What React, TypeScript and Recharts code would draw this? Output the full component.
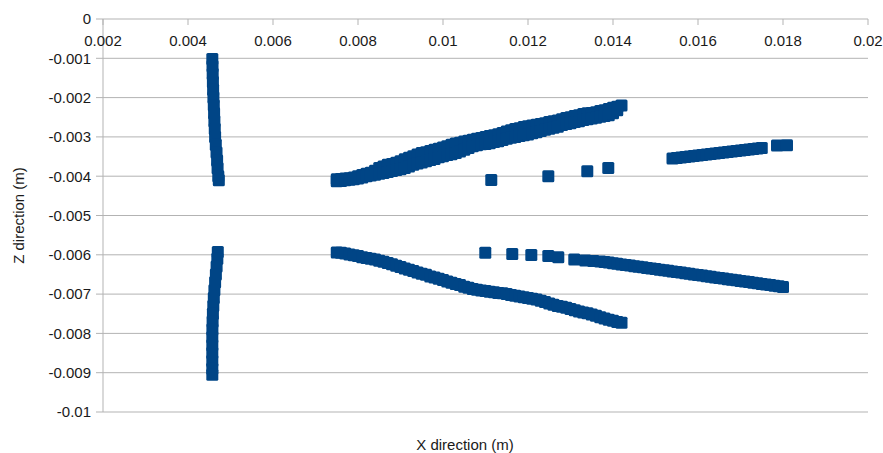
import { CartesianGrid, Label, Scatter, ScatterChart, XAxis, YAxis } from 'recharts';

// axis ticks
const xTicks = [0.002, 0.004, 0.006, 0.008, 0.01, 0.012, 0.014, 0.016, 0.018, 0.02];
const xTickLabels = ['0.002', '0.004', '0.006', '0.008', '0.01', '0.012', '0.014', '0.016', '0.018', '0.02'];
const zTicks = [0, -0.001, -0.002, -0.003, -0.004, -0.005, -0.006, -0.007, -0.008, -0.009, -0.01];
const zTickLabels = ['0', '-0.001', '-0.002', '-0.003', '-0.004', '-0.005', '-0.006', '-0.007', '-0.008', '-0.009', '-0.01'];

// [x, z] pairs
const leftUpper: [number, number][] = [
  [0.004572, -0.00102], [0.004577, -0.0012], [0.004581, -0.0014], [0.004586, -0.0016],
  [0.004591, -0.0018], [0.004598, -0.002], [0.004607, -0.0022], [0.004614, -0.0024],
  [0.004621, -0.0026], [0.00463, -0.0028], [0.004638, -0.003], [0.004654, -0.0032],
  [0.004671, -0.0034], [0.004685, -0.0036], [0.004696, -0.0038], [0.004713, -0.004],
  [0.004725, -0.0041],
];

const leftLower: [number, number][] = [
  [0.004701, -0.00593], [0.00469, -0.0061], [0.004673, -0.0063], [0.004656, -0.0065],
  [0.004638, -0.0067], [0.004621, -0.0069], [0.004607, -0.0071], [0.004595, -0.0073],
  [0.004586, -0.0075], [0.004579, -0.0077], [0.004574, -0.0079], [0.004572, -0.0081],
  [0.004572, -0.0083], [0.004572, -0.0085], [0.004572, -0.0087], [0.004572, -0.0089],
  [0.004572, -0.00905],
];

const risingTop: [number, number][] = [
  [0.0075, -0.00408], [0.0076, -0.00407], [0.0077, -0.00406], [0.0078, -0.00405],
  [0.0079, -0.00403], [0.008, -0.004], [0.0081, -0.00397], [0.0082, -0.00394],
  [0.0083, -0.00391], [0.0084, -0.00386], [0.0085, -0.00379], [0.0086, -0.00375],
  [0.0087, -0.00371], [0.0088, -0.00369], [0.0089, -0.00366], [0.009, -0.00362],
  [0.0091, -0.00357], [0.0092, -0.00353], [0.0093, -0.00349], [0.0094, -0.00345],
  [0.0095, -0.00341], [0.0096, -0.00339], [0.0097, -0.00336], [0.0098, -0.00333],
  [0.0099, -0.0033], [0.01, -0.00327], [0.0101, -0.00324], [0.0102, -0.0032],
  [0.0103, -0.00317], [0.0104, -0.00315], [0.0105, -0.00312], [0.0106, -0.0031],
  [0.0107, -0.00307], [0.0108, -0.00305], [0.0109, -0.00303], [0.011, -0.003],
  [0.0111, -0.00298], [0.0112, -0.00296], [0.0113, -0.00293], [0.0114, -0.0029],
  [0.0115, -0.00286], [0.0116, -0.00283], [0.0117, -0.0028], [0.0118, -0.00278],
  [0.0119, -0.00275], [0.012, -0.00273], [0.0121, -0.00271], [0.0122, -0.00269],
  [0.0123, -0.00267], [0.0124, -0.00265], [0.0125, -0.00262], [0.0126, -0.0026],
  [0.0127, -0.00258], [0.0128, -0.00255], [0.0129, -0.00252], [0.013, -0.0025],
  [0.0131, -0.00247], [0.0132, -0.00245], [0.0133, -0.00242], [0.0134, -0.0024],
  [0.0135, -0.00239], [0.0136, -0.00237], [0.0137, -0.00234], [0.0138, -0.00232],
  [0.0139, -0.00229], [0.014, -0.00226], [0.0141, -0.00223], [0.0142, -0.0022],
];

const risingBottom: [number, number][] = [
  [0.0075, -0.00413], [0.0076, -0.00412], [0.0077, -0.0041], [0.0078, -0.00409],
  [0.0079, -0.00408], [0.008, -0.00406], [0.0081, -0.00403], [0.0082, -0.004],
  [0.0083, -0.00398], [0.0084, -0.00396], [0.0085, -0.00394], [0.0086, -0.00392],
  [0.0087, -0.00389], [0.0088, -0.00387], [0.0089, -0.00384], [0.009, -0.00382],
  [0.0091, -0.00379], [0.0092, -0.00375], [0.0093, -0.00371], [0.0094, -0.00368],
  [0.0095, -0.00365], [0.0096, -0.00362], [0.0097, -0.00359], [0.0098, -0.00356],
  [0.0099, -0.00352], [0.01, -0.00349], [0.0101, -0.00346], [0.0102, -0.00344],
  [0.0103, -0.00341], [0.0104, -0.00337], [0.0105, -0.00333], [0.0106, -0.00328],
  [0.0107, -0.00324], [0.0108, -0.00321], [0.0109, -0.00319], [0.011, -0.00318],
  [0.0111, -0.00316], [0.0112, -0.00313], [0.0113, -0.00311], [0.0114, -0.00308],
  [0.0115, -0.00305], [0.0116, -0.00302], [0.0117, -0.003], [0.0118, -0.00298],
  [0.0119, -0.00296], [0.012, -0.00294], [0.0121, -0.00291], [0.0122, -0.00288],
  [0.0123, -0.00285], [0.0124, -0.00282], [0.0125, -0.00279], [0.0126, -0.00277],
  [0.0127, -0.00274], [0.0128, -0.0027], [0.0129, -0.00267], [0.013, -0.00265],
  [0.0131, -0.00262], [0.0132, -0.0026], [0.0133, -0.00257], [0.0134, -0.00255],
  [0.0135, -0.00253], [0.0136, -0.00251], [0.0137, -0.00249], [0.0138, -0.00247],
  [0.0139, -0.00245], [0.014, -0.0024], [0.0141, -0.00232],
];

const upperDots: [number, number][] = [
  [0.011136, -0.004097], [0.012478, -0.004003], [0.013395, -0.003875], [0.013889, -0.003791],
];

const upperRight: [number, number][] = [
  [0.0154, -0.00355], [0.0155, -0.003537], [0.0156, -0.003524], [0.0157, -0.003512],
  [0.0158, -0.003501], [0.0159, -0.003488], [0.016, -0.003476], [0.0161, -0.003463],
  [0.0162, -0.00345], [0.0163, -0.003437], [0.0164, -0.003425], [0.0165, -0.003412],
  [0.0166, -0.003399], [0.0167, -0.003386], [0.0168, -0.003374], [0.0169, -0.003361],
  [0.017, -0.003349], [0.0171, -0.003336], [0.0172, -0.003323], [0.0173, -0.00331],
  [0.0174, -0.003298], [0.0175, -0.003282], [0.017859, -0.003219], [0.018094, -0.00321],
];

const falling: [number, number][] = [
  [0.0075, -0.00594], [0.0076, -0.00595], [0.0077, -0.00597], [0.0078, -0.00599],
  [0.0079, -0.00601], [0.008, -0.00603], [0.0081, -0.00606], [0.0082, -0.00608],
  [0.0083, -0.0061], [0.0084, -0.00612], [0.0085, -0.00615], [0.0086, -0.00618],
  [0.0087, -0.00621], [0.0088, -0.00624], [0.0089, -0.00628], [0.009, -0.00631],
  [0.0091, -0.00635], [0.0092, -0.00638], [0.0093, -0.00641], [0.0094, -0.00645],
  [0.0095, -0.00648], [0.0096, -0.00651], [0.0097, -0.00655], [0.0098, -0.00658],
  [0.0099, -0.00661], [0.01, -0.00664], [0.0101, -0.00668], [0.0102, -0.00671],
  [0.0103, -0.00674], [0.0104, -0.00677], [0.0105, -0.00681], [0.0106, -0.00684],
  [0.0107, -0.00687], [0.0108, -0.00689], [0.0109, -0.00691], [0.011, -0.00692],
  [0.0111, -0.00694], [0.0112, -0.00695], [0.0113, -0.00697], [0.0114, -0.00698],
  [0.0115, -0.007], [0.0116, -0.00702], [0.0117, -0.00704], [0.0118, -0.00706],
  [0.0119, -0.00708], [0.012, -0.0071], [0.0121, -0.00712], [0.0122, -0.00714],
  [0.0123, -0.00717], [0.0124, -0.0072], [0.0125, -0.00724], [0.0126, -0.00727],
  [0.0127, -0.0073], [0.0128, -0.00732], [0.0129, -0.00735], [0.013, -0.00738],
  [0.0131, -0.00741], [0.0132, -0.00744], [0.0133, -0.00747], [0.0134, -0.00749],
  [0.0135, -0.00752], [0.0136, -0.00755], [0.0137, -0.00759], [0.0138, -0.00762],
  [0.0139, -0.00765], [0.014, -0.00768], [0.0141, -0.00771], [0.0142, -0.00773],
];

const lowerDots: [number, number][] = [
  [0.010995, -0.005947], [0.01163, -0.00598], [0.012078, -0.006005], [0.012478, -0.006031],
  [0.012713, -0.006064], [0.013089, -0.006119], [0.013348, -0.006145], [0.013537, -0.006158],
];

const lowerRight: [number, number][] = [
  [0.0137, -0.006168], [0.0138, -0.006183], [0.0139, -0.006198], [0.014, -0.006213],
  [0.0141, -0.006229], [0.0142, -0.006245], [0.0143, -0.00626], [0.0144, -0.006275],
  [0.0145, -0.00629], [0.0146, -0.006304], [0.0147, -0.006318], [0.0148, -0.006333],
  [0.0149, -0.006349], [0.015, -0.006364], [0.0151, -0.006379], [0.0152, -0.006393],
  [0.0153, -0.006407], [0.0154, -0.006422], [0.0155, -0.006438], [0.0156, -0.006453],
  [0.0157, -0.006468], [0.0158, -0.006483], [0.0159, -0.006499], [0.016, -0.006514],
  [0.0161, -0.006529], [0.0162, -0.006545], [0.0163, -0.00656], [0.0164, -0.006575],
  [0.0165, -0.00659], [0.0166, -0.006605], [0.0167, -0.006621], [0.0168, -0.006635],
  [0.0169, -0.006649], [0.017, -0.006664], [0.0171, -0.006679], [0.0172, -0.006695],
  [0.0173, -0.00671], [0.0174, -0.006725], [0.0175, -0.00674], [0.0176, -0.006755],
  [0.0177, -0.006771], [0.0178, -0.006786], [0.0179, -0.006801], [0.018, -0.006817],
];

const groups = [leftUpper, leftLower, risingTop, risingBottom, upperDots, upperRight, falling, lowerDots, lowerRight];

const W = 883;
const H = 453;
const TOP = 19;
const BLUE = '#004586';
const GRID = '#b3b3b3';
const FONT = '"Liberation Sans", Arial, sans-serif';
const TEXT = '#1a1a1a';

const toPts = (rows: [number, number][]) => rows.map(([x, z]) => ({ x, z }));

function Square(props: any) {
  const { cx, cy } = props;
  if (cx == null || cy == null) return null;
  return <rect x={cx - 6} y={cy - 6} width={12} height={12} rx={1.5} fill={BLUE} />;
}

// x labels sit under the zero line, with short ticks pointing down
function XTick(props: any) {
  const { x, payload } = props;
  const i = xTicks.indexOf(payload.value);
  return (
    <g>
      <line x1={x} x2={x} y1={TOP} y2={TOP + 6} stroke={GRID} />
      <text x={x} y={TOP + 21} textAnchor="middle" dominantBaseline="central" fontSize={15} fontFamily={FONT} fill={TEXT}>
        {i >= 0 ? xTickLabels[i] : String(payload.value)}
      </text>
    </g>
  );
}

export default function App() {
  // fixed so the body margin can't push the chart into a scrollbar
  return (
    <div style={{ position: 'fixed', left: 0, top: 0, width: W, height: H, background: '#fff' }}>
      <ScatterChart width={W} height={H} margin={{ top: 0, right: 15, left: 0, bottom: 41 }}>
        <CartesianGrid vertical={false} stroke={GRID} />
        <XAxis
          type="number"
          dataKey="x"
          orientation="top"
          height={TOP}
          domain={[0.002, 0.02]}
          ticks={xTicks}
          axisLine={false}
          tickLine={false}
          tick={<XTick />}
          interval={0}
        />
        <YAxis
          type="number"
          dataKey="z"
          width={103}
          domain={[-0.01, 0]}
          ticks={zTicks}
          interval={0}
          axisLine={{ stroke: GRID }}
          tickLine={{ stroke: GRID }}
          tickSize={7}
          tickMargin={5}
          tick={{ fontSize: 15, fontFamily: FONT, fill: TEXT }}
          tickFormatter={(v: number) => {
            const i = zTicks.indexOf(v);
            return i >= 0 ? zTickLabels[i] : String(v);
          }}
        >
          <Label
            content={() => (
              <g>
                <text
                  x={18}
                  y={215.5}
                  transform="rotate(-90, 18, 215.5)"
                  textAnchor="middle"
                  dominantBaseline="central"
                  fontSize={15}
                  fontFamily={FONT}
                  fill={TEXT}
                >
                  Z direction (m)
                </text>
                <text x={465} y={444} textAnchor="middle" dominantBaseline="central" fontSize={15} fontFamily={FONT} fill={TEXT}>
                  X direction (m)
                </text>
              </g>
            )}
          />
        </YAxis>
        {groups.map((g, i) => (
          <Scatter key={i} data={toPts(g)} fill={BLUE} shape={<Square />} isAnimationActive={false} />
        ))}
      </ScatterChart>
    </div>
  );
}
